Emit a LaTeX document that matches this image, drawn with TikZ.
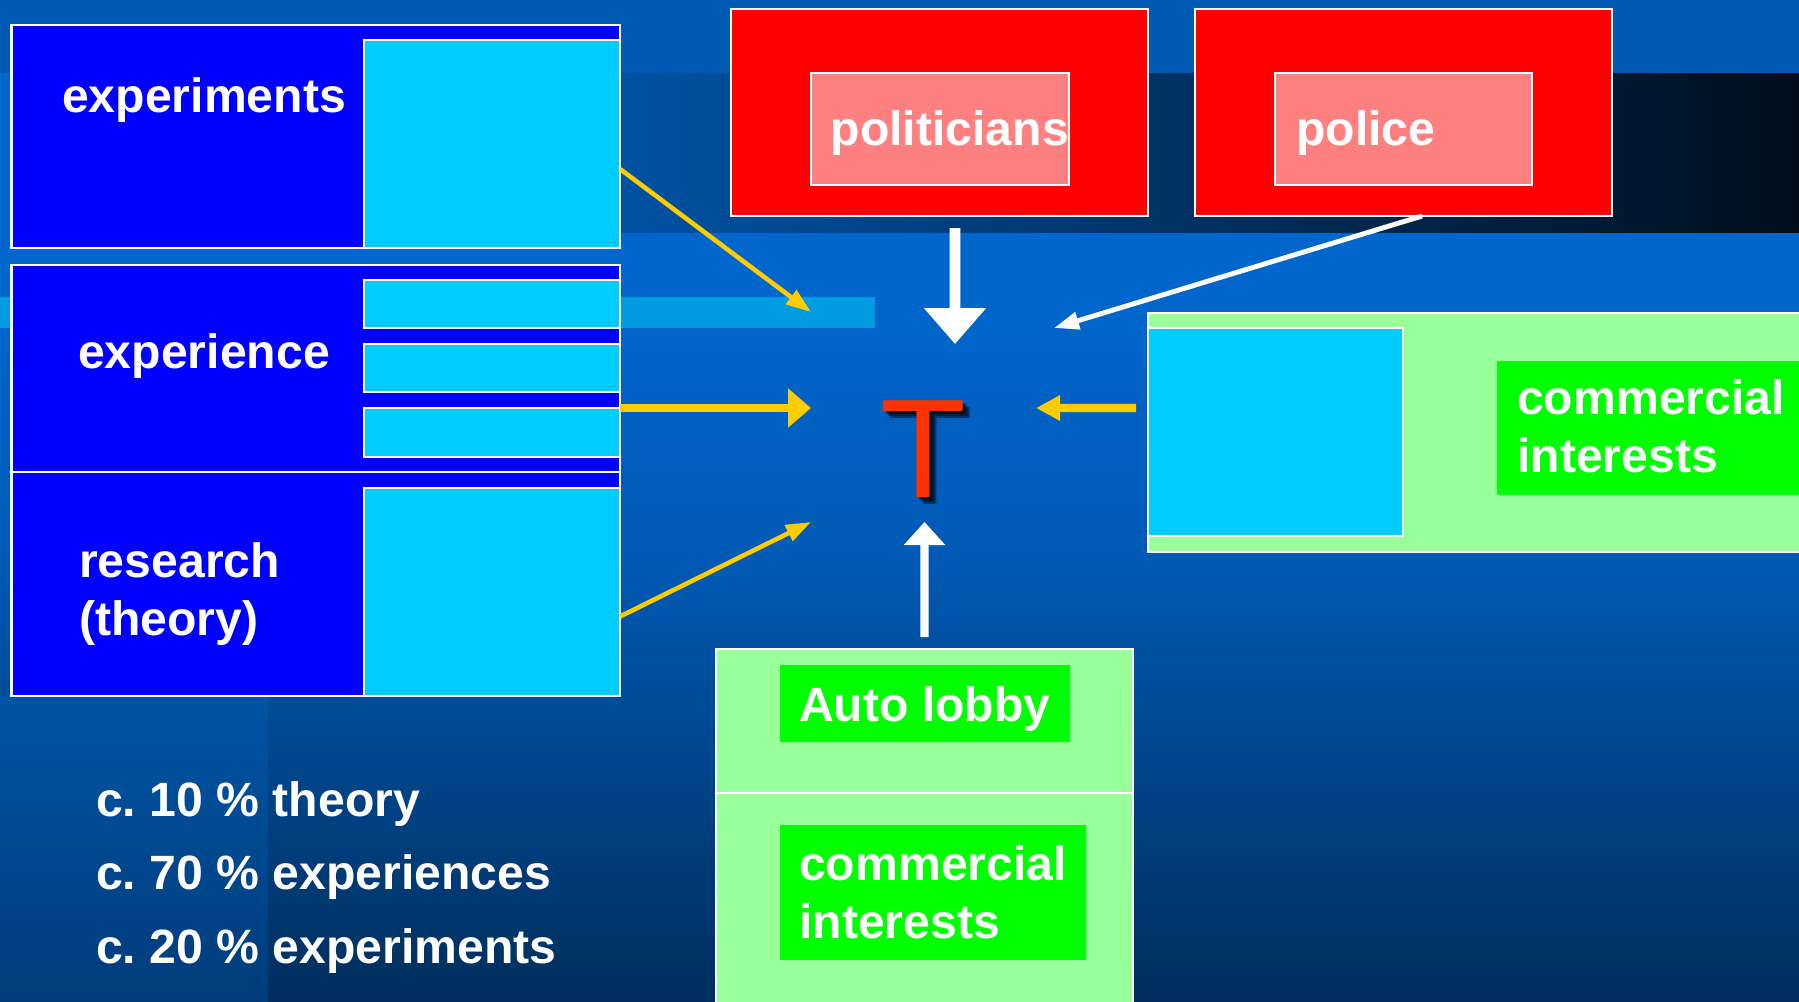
\documentclass[tikz,border=0pt]{standalone}
\usepackage{fontspec}
\setmainfont{Liberation Sans}
\usetikzlibrary{arrows.meta,positioning}

\definecolor{boxblue}{HTML}{0000FF}
\definecolor{boxcyan}{HTML}{00CCFF}
\definecolor{polred}{HTML}{FF0000}
\definecolor{polpink}{HTML}{FF8080}
\definecolor{paleg}{HTML}{99FF99}
\definecolor{brightg}{HTML}{00FF00}
\definecolor{arrowy}{HTML}{FFCC00}
\definecolor{tred}{HTML}{FF3300}
\definecolor{bgtop}{HTML}{0066CC}
\definecolor{bgmid}{HTML}{005AB6}
\definecolor{bgbot}{HTML}{002E5C}
\definecolor{bgstrip}{HTML}{0059B3}
\definecolor{bandL}{HTML}{0052A3}
\definecolor{bandM}{HTML}{003363}
\definecolor{bandR}{HTML}{000E1C}
\definecolor{bandcyan}{HTML}{009BE0}
\definecolor{leftT}{HTML}{0054A5}
\definecolor{leftB}{HTML}{003C7A}

\pgfdeclareverticalshading{bgshade}{100bp}{color(0bp)=(bgbot); color(25bp)=(bgbot); color(47.5bp)=(bgmid); color(60bp)=(bgtop); color(100bp)=(bgtop)}

\tikzset{
	whiteframe/.style={draw=white, line width=0.7pt, inner sep=0pt, outer sep=0pt, anchor=north west},
	sz/.style 2 args={minimum width=#1cm, minimum height=#2cm},
	bluebox/.style={whiteframe, fill=boxblue},
	cyanbox/.style={whiteframe, fill=boxcyan},
	redbox/.style={whiteframe, fill=polred},
	pinkbox/.style={whiteframe, fill=polpink},
	palebox/.style={whiteframe, fill=paleg},
	greenbox/.style={inner sep=0pt, outer sep=0pt, anchor=north west, fill=brightg},
	lbl/.style={text=white, font=\fontsize{13.7pt}{16.4pt}\selectfont\bfseries\frenchspacing, inner sep=0pt, anchor=base west, align=left},
	bigT/.style={font=\fontsize{40pt}{40pt}\selectfont, inner sep=0pt, anchor=base west},
	thinarrow/.style={line width=1.3pt, -{Triangle[length=0.25cm,width=0.17cm]}},
	thickarrow/.style={line width=2pt, -{Triangle[length=0.23cm,width=0.38cm]}},
	midarrow/.style={line width=2.3pt, -{Triangle[length=0.24cm,width=0.24cm]}},
	bigarrow/.style={line width=3.1pt, -{Triangle[length=0.36cm,width=0.60cm]}},
	uparrow/.style={line width=2.3pt, -{Triangle[length=0.23cm,width=0.40cm]}}
}

\begin{document}
\begin{tikzpicture}[y=-1cm]
			%%%%% BACKGROUND %%%%%
			\useasboundingbox (0,0) rectangle (17.99,10.01);
			\clip (0,0) rectangle (17.99,10.01);
			\fill[shading=bgshade] (0,0) rectangle (17.99,10.01);
			\fill[bgstrip] (0,0) rectangle (17.99,0.73);
			\fill[left color=bandL, middle color=bandM, right color=bandR] (6.2,0.73) rectangle (17.99,2.32);
			\fill[bandcyan] (0,2.97) rectangle (8.75,3.28);
			\fill[top color=leftT, bottom color=leftB] (0,6.96) rectangle (2.68,10.01);
			
			%%%%% LEFT COLUMN %%%%%
			\node[bluebox, sz={6.085}{2.23}] (expbox) at (0.115,0.25) {};
			\node[cyanbox, sz={2.56}{2.08}] (expcyan) at (3.64,0.40) {};
			\node[bluebox, sz={6.085}{2.07}] (expcbox) at (0.115,2.65) {};
			\node[cyanbox, sz={2.56}{0.48}] (bar1) at (3.64,2.80) {};
			\node[cyanbox, sz={2.56}{0.48}] (bar2) at (3.64,3.44) {};
			\node[cyanbox, sz={2.56}{0.49}] (bar3) at (3.64,4.08) {};
			\node[bluebox, sz={6.085}{2.24}] (resbox) at (0.115,4.72) {};
			\node[cyanbox, sz={2.56}{2.08}] (rescyan) at (3.64,4.88) {};
			
			\node[lbl] (exptext) at (0.615,1.12) {experiments};
			\node[lbl] (expctext) at (0.775,3.68) {experience};
			\node[lbl] (restext) at (0.785,6.35) {research\\(theory)};
			
			%%%%% TOP %%%%%
			\node[redbox, sz={4.17}{2.07}] (polbox) at (7.31,0.09) {};
			\node[pinkbox, sz={2.58}{1.12}] (polin) at (8.11,0.73) {};
			\node[redbox, sz={4.17}{2.07}] (police) at (11.95,0.09) {};
			\node[pinkbox, sz={2.57}{1.12}] (policein) at (12.75,0.73) {};
			\node[lbl] (poltext) at (8.30,1.45) {politicians};
			\node[lbl] (politext) at (12.955,1.45) {police};
			
			%%%%% RIGHT %%%%%
			\node[palebox, sz={6.62}{2.39}] (cibox) at (11.48,3.13) {};
			\node[cyanbox, sz={2.55}{2.08}] (cicyan) at (11.48,3.28) {};
			\node[greenbox, sz={3.13}{1.34}] (cigreen) at (14.97,3.61) {};
			\node[lbl] (citext) at (15.165,4.72) {commercial\\interests};
			
			%%%%% BOTTOM %%%%%
			\node[palebox, sz={4.17}{1.44}] (autobox) at (7.16,6.49) {};
			\node[palebox, sz={4.17}{2.30}] (combox) at (7.16,7.93) {};
			\node[greenbox, sz={2.90}{0.77}] (autogreen) at (7.80,6.65) {};
			\node[greenbox, sz={3.06}{1.35}] (comgreen) at (7.80,8.25) {};
			\node[lbl] (autotext) at (7.985,7.21) {Auto lobby};
			\node[lbl] (comtext) at (7.985,9.38) {commercial\\interests};
			
			\node[lbl, font=\fontsize{13.7pt}{20.8pt}\selectfont\bfseries\frenchspacing] (pcttext) at (0.955,9.63) {c. 10 \% theory\\c. 70 \% experiences\\c. 20 \% experiments};
			
			%%%%% T (soft shadow) %%%%%
			\foreach \d in {0.03,0.05,0.07}
				\node[bigT, text=black, text opacity=0.45] (Tshadow) at (8.80+\d,4.97+\d) {T};
			\node[bigT, text=tred] (T) at (8.80,4.97) {T};
			
			\coordinate (e1) at (8.11,3.12);
			\coordinate (e2) at (8.11,4.08);
			\coordinate (e3) at (8.11,5.22);
			\coordinate (e4) at (10.36,4.08);
			\coordinate (e5) at (9.55,3.44);
			\coordinate (e6) at (10.54,3.28);
			\coordinate (e7) at (9.245,5.22);
			
			\draw[arrowy, thinarrow] ([yshift=-0.25cm]expcyan.east) -- (e1);
			\draw[arrowy, thickarrow] (bar3.north east) -- (e2);
			\draw[arrowy, thinarrow] ([yshift=-0.245cm]rescyan.east) -- (e3);
			\draw[arrowy, midarrow] ([xshift=-0.12cm,yshift=0.24cm]cicyan.west) -- (e4);
			\draw[white, bigarrow] ([xshift=0.155cm,yshift=-0.12cm]polbox.south) -- (e5);
			\draw[white, thinarrow, line width=1.4pt] ([xshift=0.185cm]police.south) -- (e6);
			\draw[white, uparrow] ([yshift=0.12cm]autobox.north) -- (e7);
			
			%%%%% END %%%%%
\end{tikzpicture}
\end{document}
